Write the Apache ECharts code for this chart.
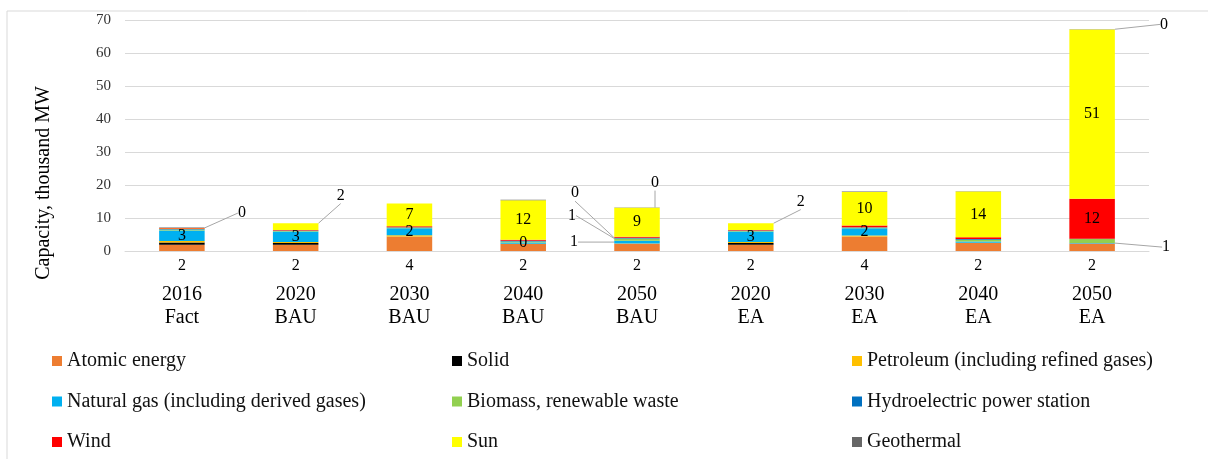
<!DOCTYPE html>
<html>
<head>
<meta charset="utf-8">
<script src="https://cdn.jsdelivr.net/npm/echarts@6/dist/echarts.min.js"></script>
<style>
html,body{margin:0;padding:0;background:#fff;}
#c{width:1208px;height:459px;}
</style>
</head>
<body>
<div id="c"></div>
<script>
const categories = ['2016\nFact','2020\nBAU','2030\nBAU','2040\nBAU','2050\nBAU','2020\nEA','2030\nEA','2040\nEA','2050\nEA'];
const yTicks = [0,10,20,30,40,50,60,70];
const atomic     = [1.9, 1.9, 4.4, 2.1, 2.2, 1.9, 4.4, 2.4, 2.3];
const solid      = [0.7, 0.5, 0,   0,   0,   0.5, 0,   0,   0];
const petroleum  = [0.4, 0.3, 0.4, 0.1, 0.1, 0.3, 0.3, 0.1, 0];
const naturalGas = [3.2, 3.2, 2.1, 0.4, 0.8, 3.2, 2.2, 0.4, 0.1];
const biomass    = [0.3, 0.2, 0.2, 0.3, 0.7, 0.2, 0.2, 0.5, 1.2];
const hydro      = [0.2, 0.1, 0.1, 0.2, 0.2, 0.1, 0.1, 0.2, 0.1];
const wind       = [0.2, 0.2, 0.3, 0.3, 0.3, 0.2, 0.5, 0.6, 12.1];
const sun        = [0.1, 2.0, 6.9, 12.0, 8.8, 2.0, 10.2, 13.8, 51.3];
const geothermal = [0.1, 0,   0,   0.1, 0.1, 0,   0.1, 0.1, 0.1];

const FONT = 'Liberation Serif';

// which data labels are shown, and offsets of leader-line labels
const labelSpecs = {
  'Atomic energy': {all: true},
  'Natural gas (including derived gases)': {inside: [0,1,2,3,5,6], moved: {4: [-63, 0]}},
  'Biomass, renewable waste': {inside: [], moved: {4: [-65, -24], 8: [74, 6]}},
  'Hydroelectric power station': {inside: [], moved: {4: [-62, -45]}},
  'Wind': {inside: [8], moved: {}},
  'Sun': {inside: [2,3,4,6,7,8], moved: {0: [60, -15], 1: [45, -31], 5: [50, -25]}},
  'Geothermal': {inside: [], moved: {4: [18, -25], 8: [72, -5]}}
};

function mk(name, values, color) {
  const spec = labelSpecs[name] || {inside: [], moved: {}};
  const moved = spec.moved || {};
  const inside = spec.inside || [];
  const data = values.map((v, i) => {
    const item = {value: v};
    if (spec.all || inside.indexOf(i) >= 0) item.label = {show: true};
    if (moved[i]) { item.label = {show: true}; item.labelLine = {show: true}; }
    return item;
  });
  return {
    name: name,
    type: 'bar',
    stack: 'total',
    barWidth: '40%',
    itemStyle: {color: color},
    data: data,
    label: {
      show: false,
      position: spec.all ? 'bottom' : 'inside',
      distance: 7,
      fontFamily: FONT,
      fontSize: 16,
      color: '#000',
      formatter: p => String(Math.round(p.value))
    },
    labelLine: {show: false, lineStyle: {color: '#a6a6a6', width: 1}},
    labelLayout: function (p) {
      const m = moved[p.dataIndex];
      if (m) return {dx: m[0], dy: m[1]};
      return {};
    }
  };
}

const chart = echarts.init(document.getElementById('c'), null, {renderer: 'canvas'});

const legendCommon = {
  orient: 'vertical',
  top: 346,
  height: 140,
  itemWidth: 10,
  itemHeight: 10,
  itemGap: 20.5,
  icon: 'rect',
  textStyle: {fontFamily: FONT, fontSize: 20, color: '#111', lineHeight: 20}
};

chart.setOption({
  animation: false,
  textStyle: {fontFamily: FONT},
  grid: {left: 125, right: 59, top: 20, bottom: 208},
  legend: [
    Object.assign({left: 47, data: ['Atomic energy', 'Natural gas (including derived gases)', 'Wind']}, legendCommon),
    Object.assign({left: 447, data: ['Solid', 'Biomass, renewable waste', 'Sun']}, legendCommon),
    Object.assign({left: 847, data: ['Petroleum (including refined gases)', 'Hydroelectric power station', 'Geothermal']}, legendCommon)
  ],
  graphic: [
    {type: 'rect', shape: {x: 7, y: 11, width: 1220, height: 470}, style: {fill: 'none', stroke: '#d9d9d9', lineWidth: 1}, silent: true, z: -1},
    {type: 'text', x: 44, y: 183, rotation: Math.PI / 2,
     style: {text: 'Capacity, thousand MW', fontFamily: FONT, fontSize: 20, fill: '#000', align: 'center', verticalAlign: 'middle'}}
  ],
  xAxis: {
    type: 'category',
    data: categories,
    axisLine: {show: true, lineStyle: {color: '#d9d9d9', width: 1}},
    axisTick: {show: false},
    axisLabel: {fontFamily: FONT, fontSize: 20, color: '#000', lineHeight: 23, margin: 32, interval: 0}
  },
  yAxis: {
    type: 'value',
    min: yTicks[0],
    max: yTicks[yTicks.length - 1],
    interval: 10,
    axisLine: {show: false},
    axisTick: {show: false},
    splitLine: {lineStyle: {color: '#d9d9d9', width: 1}},
    axisLabel: {fontFamily: FONT, fontSize: 15, color: '#333', margin: 14}
  },
  series: [
    mk('Atomic energy', atomic, '#ED7D31'),
    mk('Solid', solid, '#000000'),
    mk('Petroleum (including refined gases)', petroleum, '#FFC000'),
    mk('Natural gas (including derived gases)', naturalGas, '#00B0F0'),
    mk('Biomass, renewable waste', biomass, '#92D050'),
    mk('Hydroelectric power station', hydro, '#0070C0'),
    mk('Wind', wind, '#FF0000'),
    mk('Sun', sun, '#FFFF00'),
    mk('Geothermal', geothermal, '#666666')
  ]
});
</script>
</body>
</html>
